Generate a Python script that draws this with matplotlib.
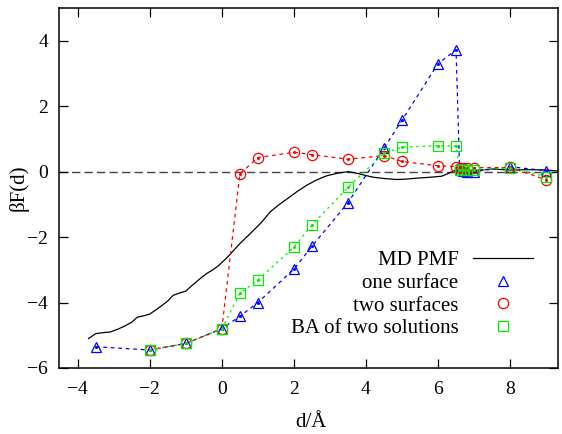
import matplotlib
matplotlib.use("Agg")
import matplotlib.pyplot as plt

plt.rcParams["font.family"] = ["Liberation Serif", "DejaVu Serif"]

# MD potential of mean force
pmf_d = [-3.7, -3.5, -3.3, -3.1, -2.9, -2.7, -2.5, -2.35, -2.15, -2.0, -1.8,
         -1.65, -1.5, -1.35, -1.15, -1.0, -0.85, -0.7, -0.55, -0.4, -0.25,
         -0.1, 0.15, 0.5, 0.8, 1.1, 1.35, 1.6, 1.9, 2.1, 2.35, 2.6, 2.9, 3.2,
         3.5, 3.75, 4.0, 4.2, 4.5, 4.85, 5.1, 5.4, 5.8, 6.1, 6.3, 6.5, 6.8,
         7.0, 7.5, 8.0, 8.5, 9.0, 9.33]
pmf_f = [-5.1, -4.95, -4.92, -4.9, -4.82, -4.72, -4.6, -4.45, -4.4, -4.35,
         -4.2, -4.08, -3.95, -3.78, -3.7, -3.65, -3.5, -3.36, -3.22, -3.1,
         -3.0, -2.88, -2.62, -2.2, -1.88, -1.55, -1.22, -1.0, -0.76, -0.6,
         -0.42, -0.27, -0.13, -0.05, 0.0, -0.05, -0.12, -0.17, -0.21, -0.24,
         -0.23, -0.2, -0.17, -0.14, -0.05, 0.05, 0.04, 0.03, 0.08, 0.05, 0.06,
         0.05, 0.02]

# one surface
one_d = [-3.5, -2.0, -1.0, 0.0, 0.5, 1.0, 2.0, 2.5, 3.5, 4.5, 5.0, 6.0, 6.5,
         6.6, 6.7, 6.8, 7.0, 8.0, 9.0]
one_f = [-5.35, -5.45, -5.25, -4.8, -4.42, -4.0, -2.98, -2.28, -0.95, 0.72,
         1.57, 3.3, 3.72, 0.05, 0.02, 0.0, 0.0, 0.15, 0.03]

# two surfaces
two_d = [-2.0, -1.0, 0.0, 0.5, 1.0, 2.0, 2.5, 3.5, 4.5, 5.0, 6.0, 6.5, 6.6,
         6.7, 6.8, 7.0, 8.0, 9.0]
two_f = [-5.45, -5.25, -4.8, -0.07, 0.43, 0.59, 0.52, 0.38, 0.49, 0.31, 0.18,
         0.15, 0.12, 0.12, 0.1, 0.12, 0.13, -0.25]

# Boltzmann average of the two solutions
ba_d = [-2.0, -1.0, 0.0, 0.5, 1.0, 2.0, 2.5, 3.5, 4.5, 5.0, 6.0, 6.5, 6.6,
        6.7, 6.8, 7.0, 8.0, 9.0]
ba_f = [-5.45, -5.25, -4.8, -3.72, -3.31, -2.31, -1.63, -0.48, 0.56, 0.75,
        0.79, 0.79, 0.05, 0.05, 0.05, 0.04, 0.12, -0.15]

xticks = [-4, -2, 0, 2, 4, 6, 8]
yticks = [-6, -4, -2, 0, 2, 4]

fig = plt.figure(figsize=(5.62, 4.34), dpi=100)
ax = fig.add_axes([59 / 562, 66 / 434, 499 / 562, 360 / 434])

ax.axhline(0, color="#444444", lw=1.0, dashes=(6, 3), zorder=1)

pmf_line, = ax.plot(pmf_d, pmf_f, color="black", lw=0.9, label="MD PMF",
                    zorder=2)

series = [
    (one_d, one_f, "#0000ff", "^", 7.6, (3, 3), "one surface"),
    (two_d, two_f, "#ff0000", "o", 7.4, (3, 3), "two surfaces"),
    (ba_d, ba_f, "#00ee00", "s", 7.0, (2, 3), "BA of two solutions"),
]
handles = []
for d, f, col, mk, ms, dash, lab in series:
    ax.plot(d, f, color=col, lw=0.9, dashes=dash, zorder=3)
    h, = ax.plot(d, f, ls="none", marker=mk, ms=ms, mfc="none", mec=col,
                 mew=0.9, label=lab, zorder=4)
    ax.plot(d, f, ls="none", marker="o", ms=1.2, color=col, zorder=4)
    handles.append(h)

ax.set_xlim(-4.52, 9.33)
ax.set_ylim(-6, 5)
ax.set_xticks(xticks)
ax.set_yticks(yticks)

for s in ax.spines.values():
    s.set_linewidth(1.1)
ax.tick_params(direction="in", length=6.5, width=0.9, top=True, right=True,
               labelsize=14)
ax.tick_params(axis="x", pad=9)
ax.tick_params(axis="y", pad=8)

ax.set_xlabel("d/Å", fontsize=15)
ax.set_ylabel("βF(d)", fontsize=15)
ax.xaxis.set_label_coords(0.505, -0.125)
ax.yaxis.set_label_coords(-0.06, 0.5)

leg = ax.legend([pmf_line] + handles,
                ["MD PMF", "one surface", "two surfaces", "BA of two solutions"],
                loc="upper right", bbox_to_anchor=(0.949, 0.326),
                frameon=False, markerfirst=False, fontsize=15,
                handlelength=2.85, handletextpad=0.7, labelspacing=0.15,
                borderpad=0, borderaxespad=0)

fig.savefig("out.png", dpi=100)
